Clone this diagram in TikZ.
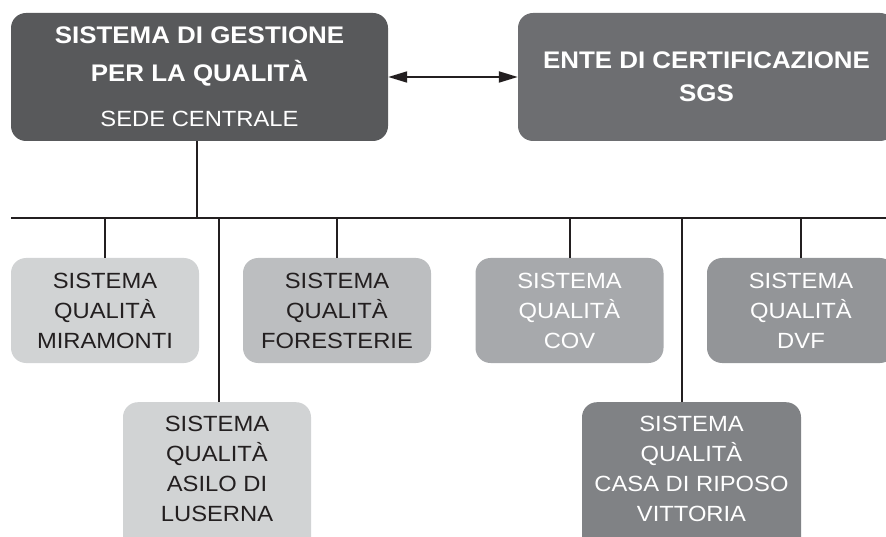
\documentclass[tikz,border=0pt]{standalone}
\usepackage{fontspec}
\setmainfont[FakeStretch=1.08]{Liberation Sans}
\usetikzlibrary{arrows.meta}
\definecolor{ink}{HTML}{231F20}
\definecolor{sedegray}{HTML}{58595B}
\definecolor{entegray}{HTML}{6D6E71}
\definecolor{palegray}{HTML}{D1D3D4}
\definecolor{lightgray}{HTML}{BCBEC0}
\definecolor{midgray}{HTML}{A7A9AC}
\definecolor{dimgray}{HTML}{939598}
\definecolor{deepgray}{HTML}{808285}
\tikzset{sysbox/.style = {shape=rectangle, rounded corners=15pt, minimum width=188pt, align=center, inner sep=0pt}}
\tikzset{rowbox/.style = {sysbox, minimum height=105pt, font=\fontsize{22}{30}\selectfont}}
\tikzset{lowbox/.style = {sysbox, anchor=north, inner ysep=13pt, text height=106pt, text depth=19pt, font=\fontsize{22}{30}\selectfont}}
\tikzset{headbox/.style = {sysbox, minimum width=377pt, minimum height=128pt, text=white, font=\bfseries\fontsize{24}{38}\selectfont}}
\tikzset{wire/.style = {-, line width=2pt, draw=ink}}
\tikzset{link/.style = {<->, > = {Triangle[length=19pt,width=11pt]}, line width=2pt, draw=ink}}

\begin{document}
\begin{tikzpicture}[x=1pt, y=-1pt]
\useasboundingbox (0,0) rectangle (886,537);
% boxes
\node[headbox, fill=sedegray] (sede) at (199.5,77) {SISTEMA DI GESTIONE\\PER LA QUALITÀ\\[7pt]{\mdseries\fontsize{22}{30}\selectfont SEDE CENTRALE}};
\node[headbox, fill=entegray, font=\bfseries\fontsize{24}{33}\selectfont] (ente) at (706.5,77) {ENTE DI CERTIFICAZIONE\\SGS};
\node[rowbox, fill=palegray, text=ink] (mira) at (105,310.5) {SISTEMA\\QUALITÀ\\MIRAMONTI};
\node[rowbox, fill=lightgray, text=ink] (fore) at (337,310.5) {SISTEMA\\QUALITÀ\\FORESTERIE};
\node[rowbox, fill=midgray, text=white] (cov) at (569.5,310.5) {SISTEMA\\QUALITÀ\\COV};
\node[rowbox, fill=dimgray, text=white] (dvf) at (801,310.5) {SISTEMA\\QUALITÀ\\DVF};
\node[lowbox, fill=palegray, text=ink] (asilo) at (217,402) {SISTEMA\\QUALITÀ\\ASILO DI\\LUSERNA};
\node[lowbox, fill=deepgray, text=white, minimum width=219pt] (casa) at (691.5,402) {SISTEMA\\QUALITÀ\\CASA DI RIPOSO\\VITTORIA};
% lines
\coordinate (busL) at (11,218);
\coordinate (busR) at (890,218);
\draw[link] (sede) -- (ente);
\draw[wire] ([xshift=-3pt]sede.south) -- ([xshift=-3pt]sede.south |- busL);
\draw[wire] (busL) -- (busR);
\draw[wire] (mira) -- (mira |- busL);
\draw[wire] (fore) -- (fore |- busL);
\draw[wire] (cov) -- (cov |- busL);
\draw[wire] (dvf) -- (dvf |- busL);
\draw[wire] ([xshift=2pt]asilo.north) -- ([xshift=2pt]asilo.north |- busL);
\draw[wire] ([xshift=-9.5pt]casa.north) -- ([xshift=-9.5pt]casa.north |- busL);
\end{tikzpicture}
\end{document}
